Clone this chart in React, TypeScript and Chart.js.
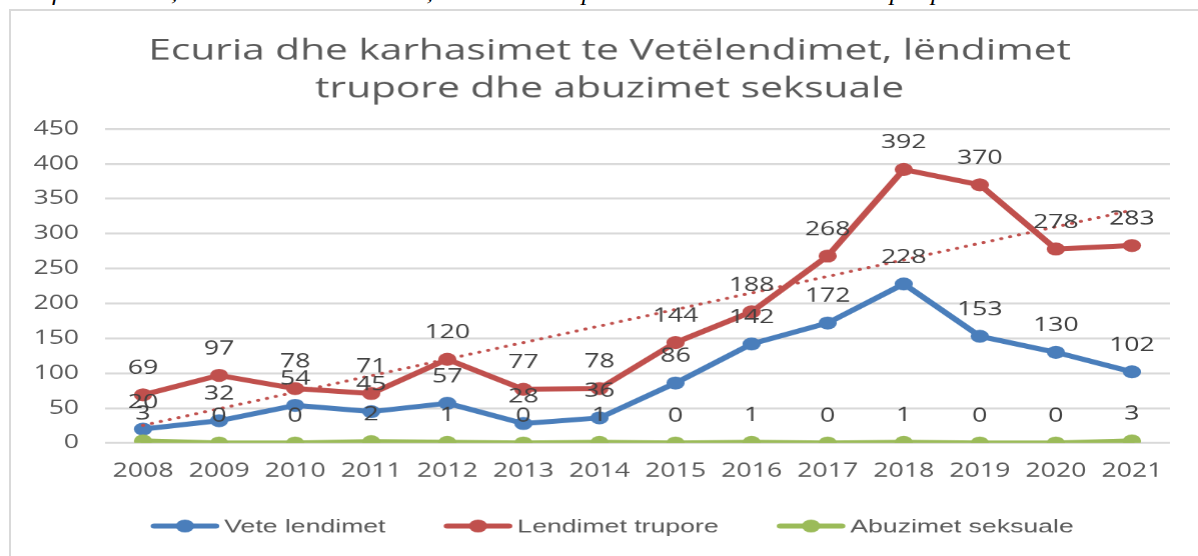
import React, { useEffect, useRef } from "react";
import { Chart, registerables } from "chart.js";

Chart.register(...registerables);

// ---------- data ----------
const years = ["2008", "2009", "2010", "2011", "2012", "2013", "2014", "2015", "2016", "2017", "2018", "2019", "2020", "2021"];
const veteLendimet = [20, 32, 54, 45, 57, 28, 36, 86, 142, 172, 228, 153, 130, 102];
const lendimetTrupore = [69, 97, 78, 71, 120, 77, 78, 144, 188, 268, 392, 370, 278, 283];
const abuzimetSeksuale = [3, 0, 0, 2, 1, 0, 1, 0, 1, 0, 1, 0, 0, 3];
const yMin = 0;
const yMax = 450;
const yStep = 50;
const seriesNames = ["Vete lendimet", "Lendimet trupore", "Abuzimet seksuale"];
const titleLines = ["Ecuria dhe karhasimet te Vetëlendimet, lëndimet", "trupore dhe abuzimet seksuale"];
const captionText = "Graf. numer 13, Ecuria e vetëlendimeve, lëndimeve trupore dhe abuzimeve seksuale për periudhën 2008-2020";

// least-squares linear trend of a series (Excel-style trendline)
function linearTrend(values: number[]): number[] {
  const n = values.length;
  const mx = (n - 1) / 2;
  const my = values.reduce((a, b) => a + b, 0) / n;
  let sxy = 0;
  let sxx = 0;
  values.forEach((v, i) => {
    sxy += (i - mx) * (v - my);
    sxx += (i - mx) * (i - mx);
  });
  const slope = sxy / sxx;
  const icpt = my - slope * mx;
  return values.map((_, i) => icpt + slope * i);
}

// ---------- styling ----------
const BLUE = "#4a7ebb";
const RED = "#c0504d";
const GREEN = "#9bbb59";
const GRID = "#d9d9d9";
const TEXT = "#595959";
const LABEL = "#404040";
const STRETCH = 1.4;
const DISPLAY_W = 1186;
const DISPLAY_H = 545;
const LOGICAL_W = Math.round(DISPLAY_W / STRETCH);
const TITLE_CENTER_X = 426.5;
const LEGEND_CENTER_X = 428.6;

const titlePlugin = {
  id: "twoLineTitle",
  afterDraw(chart: any) {
    const ctx = chart.ctx;
    ctx.save();
    ctx.font = '29px "Open Sans"';
    ctx.fillStyle = TEXT;
    ctx.textAlign = "center";
    ctx.textBaseline = "middle";
    titleLines.forEach((line, i) => {
      ctx.fillText(line, TITLE_CENTER_X, 40 + i * 38);
    });
    ctx.restore();
  },
};

const dataLabelPlugin = {
  id: "pointValueLabels",
  afterDatasetsDraw(chart: any) {
    const ctx = chart.ctx;
    ctx.save();
    ctx.font = '19px "Open Sans"';
    ctx.fillStyle = LABEL;
    ctx.textAlign = "center";
    ctx.textBaseline = "alphabetic";
    chart.data.datasets.forEach((ds: any, di: number) => {
      if (!ds.showValues) return;
      const meta = chart.getDatasetMeta(di);
      meta.data.forEach((pt: any, i: number) => {
        ctx.fillText(String(ds.data[i]), pt.x, pt.y - 21);
      });
    });
    ctx.restore();
  },
};

const lineLegendPlugin = {
  id: "lineLegend",
  afterDraw(chart: any) {
    const ctx = chart.ctx;
    const items = chart.data.datasets.filter((d: any) => d.inLegend);
    ctx.save();
    ctx.font = '19px "Liberation Sans", Arial, sans-serif';
    const lineLen = 48;
    const gapText = 4;
    const gapItem = 42;
    const widths = items.map((d: any) => ctx.measureText(d.label).width);
    const total = widths.reduce((a: number, w: number) => a + w + lineLen + gapText, 0) + gapItem * (items.length - 1);
    let x = LEGEND_CENTER_X - total / 2;
    const y = 515;
    items.forEach((d: any, i: number) => {
      ctx.strokeStyle = d.borderColor;
      ctx.lineWidth = 5;
      ctx.lineCap = "round";
      ctx.beginPath();
      ctx.moveTo(x + 2, y);
      ctx.lineTo(x + lineLen - 2, y);
      ctx.stroke();
      ctx.fillStyle = d.borderColor;
      ctx.beginPath();
      ctx.arc(x + lineLen / 2, y, 6.5, 0, Math.PI * 2);
      ctx.fill();
      ctx.fillStyle = TEXT;
      ctx.textAlign = "left";
      ctx.textBaseline = "middle";
      ctx.fillText(d.label, x + lineLen + gapText, y + 1);
      x += lineLen + gapText + widths[i] + gapItem;
    });
    ctx.restore();
  },
};

function LineChart() {
  const ref = useRef<HTMLCanvasElement | null>(null);

  useEffect(() => {
    if (!ref.current) return;
    const lineDs = (label: string, data: number[], color: string, order: number) => ({
      label,
      data,
      borderColor: color,
      backgroundColor: color,
      borderWidth: 5,
      pointRadius: 6.5,
      pointHoverRadius: 6.5,
      pointBackgroundColor: color,
      pointBorderWidth: 0,
      borderJoinStyle: "round",
      borderCapStyle: "round",
      tension: 0,
      order,
      showValues: true,
      inLegend: true,
    });
    const chart = new Chart(ref.current, {
      type: "line",
      data: {
        labels: years,
        datasets: [
          lineDs(seriesNames[0], veteLendimet, BLUE, 4),
          lineDs(seriesNames[1], lendimetTrupore, RED, 3),
          lineDs(seriesNames[2], abuzimetSeksuale, GREEN, 2),
          {
            label: "Linear (" + seriesNames[1] + ")",
            data: linearTrend(lendimetTrupore),
            borderColor: RED,
            borderWidth: 3,
            borderDash: [0.1, 6.5],
            borderCapStyle: "round",
            pointRadius: 0,
            pointHoverRadius: 0,
            tension: 0,
            order: 1,
          } as any,
        ] as any,
      },
      options: {
        responsive: false,
        animation: false,
        devicePixelRatio: STRETCH,
        layout: { padding: { left: 0, right: 20.6, top: 118, bottom: 63 } },
        plugins: {
          legend: { display: false },
          tooltip: { enabled: false },
          title: { display: false },
        },
        scales: {
          x: {
            type: "category",
            offset: true,
            grid: { display: false },
            border: { display: false },
            ticks: { color: TEXT, font: { family: '"Open Sans"', size: 19 }, padding: 9, maxRotation: 0, autoSkip: false },
            afterFit: (s: any) => {
              s.height = 50;
            },
          },
          y: {
            min: yMin,
            max: yMax,
            grid: { color: GRID, lineWidth: 2, drawTicks: false },
            border: { display: false },
            ticks: { stepSize: yStep, color: TEXT, font: { family: '"Open Sans"', size: 19 }, padding: 18.5 },
            afterFit: (s: any) => {
              s.width = 66.4;
            },
          },
        },
      } as any,
      plugins: [titlePlugin, dataLabelPlugin, lineLegendPlugin],
    });
    return () => chart.destroy();
  }, []);

  return (
    <canvas
      ref={ref}
      width={LOGICAL_W}
      height={DISPLAY_H}
      style={{ position: "absolute", left: 12, top: 11, width: DISPLAY_W + "px", height: DISPLAY_H + "px" }}
    />
  );
}

export default function App() {
  return (
    <div style={{ position: "absolute", left: 0, top: 0, width: 1198, height: 556, overflow: "hidden", background: "#ffffff" }}>
      <div
        style={{
          position: "absolute",
          left: 10,
          top: -17,
          fontFamily: '"Liberation Serif", serif',
          fontStyle: "italic",
          fontSize: 20,
          lineHeight: "20px",
          whiteSpace: "nowrap",
          color: "#000",
          transform: "scaleX(1.3)",
          transformOrigin: "left top",
        }}
      >
        {captionText}
      </div>
      <div
        style={{
          position: "absolute",
          left: 9,
          top: 9,
          width: 1200,
          height: 560,
          borderLeft: "2px solid #d9d9d9",
          borderTop: "2px solid #d9d9d9",
          background: "#ffffff",
        }}
      />
      <LineChart />
    </div>
  );
}
